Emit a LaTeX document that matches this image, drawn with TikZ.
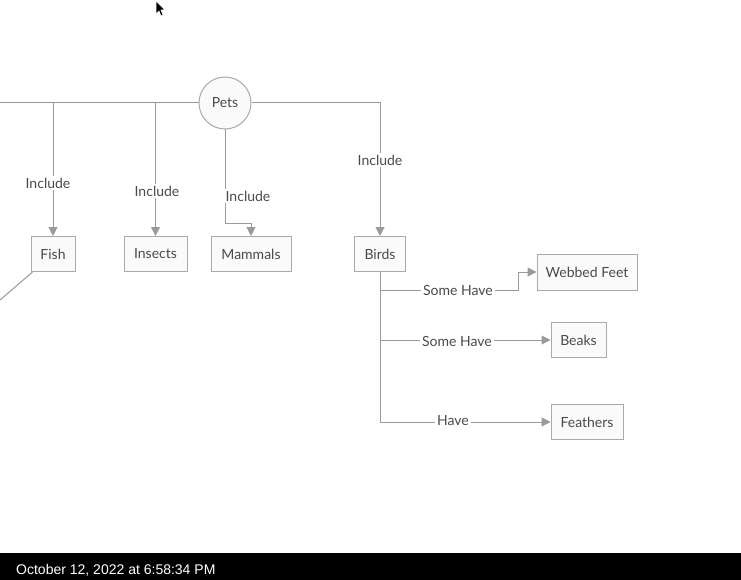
\documentclass[tikz,border=0pt]{standalone}
\usepackage{fontspec}
\setmainfont{Lato}
\newfontfamily\stampfont{Liberation Sans}
\usetikzlibrary{arrows.meta,positioning}

\definecolor{linegray}{HTML}{9A9A9A}
\definecolor{boxgray}{HTML}{AAAAAA}
\definecolor{boxfill}{HTML}{FAFAFA}
\definecolor{textgray}{HTML}{4A4A4A}

\tikzset{
  concept/.style={draw=boxgray, line width=1pt, fill=boxfill, text=textgray,
    font=\fontsize{14}{16}\selectfont, minimum height=35pt, inner sep=0pt},
  linking/.style={fill=white, text=textgray, font=\fontsize{14}{16}\selectfont,
    inner sep=2pt},
  link/.style={draw=linegray, line width=1pt},
  tip/.style={-{Triangle[length=9pt,width=9pt]}}
}

\begin{document}
\begin{tikzpicture}[x=1pt,y=-1pt]
    \useasboundingbox (0,0) rectangle (741,580);

    % mouse pointer
    \filldraw[fill=black, draw=white, line width=0.6pt]
        (156,1) -- (156,14) -- (159,11) -- (161,16) -- (163,15) -- (161,10) -- (165,10) -- cycle;

    % concepts
    \node[concept, circle, minimum size=52pt] (pets) at (225,103) {Pets};
    \node[concept, minimum width=44pt] (fish) at (53,254) {Fish};
    \node[concept, minimum width=63pt] (insects) at (155.5,254) {Insects};
    \node[concept, minimum width=80pt] (mammals) at (251,254) {Mammals};
    \node[concept, minimum width=51pt] (birds) at (380,254) {Birds};
    \node[concept, minimum width=100pt, minimum height=36pt] (webbed) at (587,272) {Webbed Feet};
    \node[concept, minimum width=55pt] (beaks) at (578.5,340) {Beaks};
    \node[concept, minimum width=72pt] (feathers) at (587,422) {Feathers};

    % free ends and bends
    \coordinate (west) at (0,103);
    \coordinate (fishout) at (0,300);
    \coordinate (mbend) at (225,223);
    \coordinate (sh1) at (380,290);
    \coordinate (sh1turn) at (518,290);

    % connectors from Pets
    \draw[link] (west) -- (pets.west);
    \draw[link, tip] (fish |- west) -- (fish.north);
    \draw[link, tip] (insects |- west) -- (insects.north);
    \draw[link, tip] (pets.south) -- (mbend) -| (mammals.north);
    \draw[link, tip] (pets.east) -| (birds.north);
    \draw[link] (fish.south west) ++(2,0) -- (fishout);

    % connectors from Birds
    \draw[link] (birds.south) -- (birds.south |- feathers.west);
    \draw[link, tip] (sh1) -- (sh1turn) |- (webbed.west);
    \draw[link, tip] (birds.south |- beaks.west) -- (beaks.west);
    \draw[link, tip] (birds.south |- feathers.west) -- (feathers.west);

    % linking phrases
    \node[linking] (incfish) at (48,183) {Include};
    \node[linking] (incinsects) at (157,191) {Include};
    \node[linking] (incmammals) at (248,196) {Include};
    \node[linking] (incbirds) at (380,160) {Include};
    \node[linking] (somewebbed) at (458,290) {Some Have};
    \node[linking] (somebeaks) at (457,341) {Some Have};
    \node[linking] (havefeathers) at (453,421) {Have};

    % screenshot bar
    \fill[black] (0,553) rectangle (741,580);
    \node[anchor=west, text=white, inner sep=0pt,
          font=\stampfont\fontsize{14}{16}\selectfont] (stamp) at (16,570) {October 12, 2022 at 6:58:34 PM};
\end{tikzpicture}
\end{document}
